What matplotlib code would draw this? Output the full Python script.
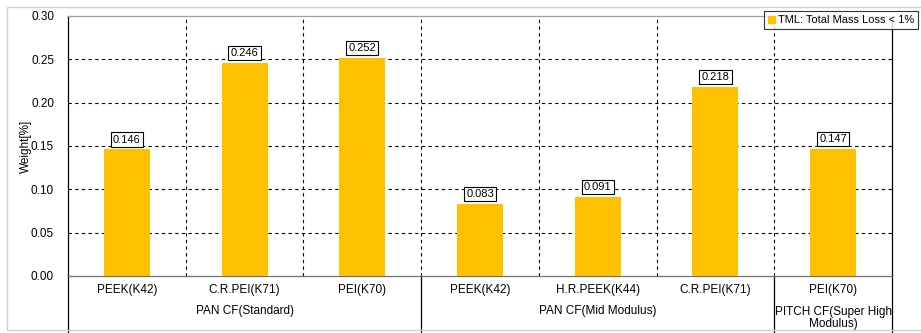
import matplotlib.pyplot as plt
from matplotlib.patches import Rectangle
from matplotlib.lines import Line2D

plt.rcParams['font.family'] = ['Liberation Sans', 'DejaVu Sans']

materials = ['PEEK(K42)', 'C.R.PEI(K71)', 'PEI(K70)',
             'PEEK(K42)', 'H.R.PEEK(K44)', 'C.R.PEI(K71)', 'PEI(K70)']
tml = [0.146, 0.246, 0.252, 0.083, 0.091, 0.218, 0.147]
groups = ['PAN CF(Standard)', 'PAN CF(Mid Modulus)', 'PITCH CF(Super High\nModulus)']
group_spans = [(0, 2), (3, 5), (6, 6)]
yticks = [0.00, 0.05, 0.10, 0.15, 0.20, 0.25, 0.30]

fig = plt.figure(figsize=(9.21, 3.33), dpi=100)
ax = fig.add_axes([68/921, 1-276/333, (892-68)/921, 260/333])

x = range(len(tml))
bar_color = '#FFC000'
ax.bar(x, tml, width=0.39, color=bar_color, zorder=3)

ax.set_xlim(-0.5, len(tml) - 0.5)
ax.set_ylim(0, 0.30)
ax.set_yticks(yticks)
ax.set_yticklabels([f'{v:.2f}' for v in yticks], fontsize=8.5)
ax.set_xticks([])
ax.tick_params(axis='y', length=0, pad=10)
ax.set_ylabel('Weight[%]', fontsize=8.5)
ax.yaxis.set_label_coords(-36/824, 0.5)

# grid
for v in yticks[1:-1]:
    ax.axhline(v, color='black', lw=0.8, ls=(0, (3, 3)), zorder=1)
for b in [0.5, 1.5, 2.5, 3.5, 4.5, 5.5]:
    ax.axvline(b, color='black', lw=0.8, ls=(0, (3, 3)), zorder=1)

ax.spines['top'].set_color('#a0a0a0')
ax.spines['bottom'].set_color('#707070')
ax.spines['left'].set_color('black')
ax.spines['right'].set_color('black')
for s in ax.spines.values():
    s.set_linewidth(0.9)

# value labels
for xi, v in zip(x, tml):
    ax.annotate(f'{v:.3f}', (xi, v), xytext=(0, 3.5), textcoords='offset points',
                ha='center', va='bottom', fontsize=8,
                bbox=dict(boxstyle='square,pad=0.2', fc='white', ec='black', lw=0.8))

# category labels and group labels
trans = ax.get_xaxis_transform()
for xi, m in zip(x, materials):
    ax.text(xi, -14/260, m, transform=trans, ha='center', va='center', fontsize=8.5)
for (a, b), g in zip(group_spans, groups):
    if '\n' in g:
        ax.text((a + b) / 2, -42/260, g, transform=trans, ha='center', va='center',
                fontsize=8.5, linespacing=1.1)
    else:
        ax.text((a + b) / 2, -35/260, g, transform=trans, ha='center', va='center',
                fontsize=8.5)

# separator lines below the axis
for b in [-0.5, 2.5, 5.5, 6.5]:
    ax.add_line(Line2D([b, b], [0, -57/260], transform=trans, color='black',
                       lw=0.9, clip_on=False))

# legend
handle = Rectangle((0, 0), 1, 1, color=bar_color)
leg = ax.legend([handle], ['TML: Total Mass Loss < 1%'], loc='upper left',
                bbox_to_anchor=(0.845, 1.018), fontsize=8, frameon=True,
                fancybox=False, edgecolor='black', handlelength=0.6,
                handleheight=0.6, handletextpad=0.3, borderpad=0.35,
                borderaxespad=0)
leg.get_frame().set_linewidth(0.8)

# outer light frame
fig.add_artist(Rectangle((7/921, 3/333), 1, 1 - 10/333, transform=fig.transFigure,
                         fill=False, ec='#d0d0d0', lw=1))

fig.savefig('out.png', dpi=100)
